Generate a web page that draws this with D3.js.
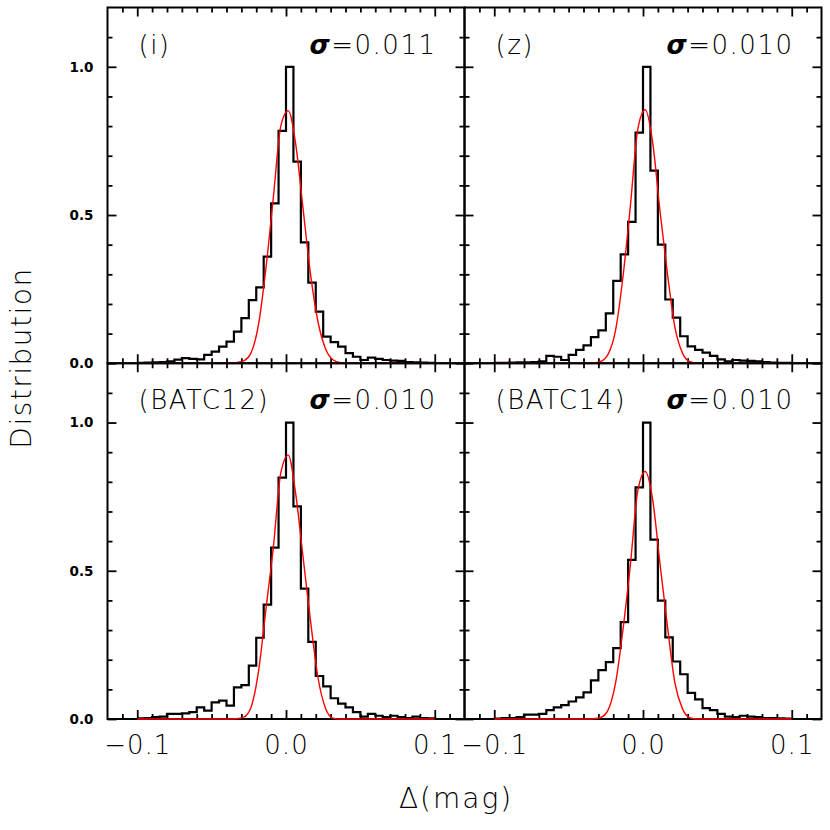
<!DOCTYPE html>
<html>
<head>
<meta charset="utf-8">
<script src="https://cdn.jsdelivr.net/npm/d3@7"></script>
<style>
  body { margin: 0; background: #fff; }
  svg { display: block; }
  text { font-family: "DejaVu Sans", sans-serif; fill: #000; }
  .thin { font-weight: 200; }
</style>
</head>
<body>
<div id="chart-area"></div>
<script>
// histogram bins: left edges start at -0.1, width 0.005 (40 bins)
const binStart = -0.1;
const binWidth = 0.005;

const histI = [0.001, 0.002, 0.003, 0.004, 0.006, 0.012, 0.017, 0.015, 0.013, 0.028,
  0.039, 0.056, 0.073, 0.107, 0.152, 0.213, 0.256, 0.36, 0.539, 0.784,
  1.0, 0.68, 0.408, 0.272, 0.174, 0.09, 0.071, 0.056, 0.034, 0.022,
  0.011, 0.019, 0.015, 0.011, 0.009, 0.008, 0.004, 0.003, 0.002, 0.001];
const histZ = [0.001, 0.001, 0.002, 0.003, 0.003, 0.004, 0.006, 0.025, 0.022, 0.011,
  0.028, 0.045, 0.06, 0.088, 0.111, 0.168, 0.278, 0.367, 0.477, 0.778,
  1.0, 0.65, 0.40, 0.215, 0.154, 0.091, 0.057, 0.045, 0.036, 0.025,
  0.013, 0.006, 0.011, 0.009, 0.008, 0.006, 0.004, 0.002, 0.001, 0.001];
const histB12 = [0.002, 0.003, 0.006, 0.008, 0.017, 0.017, 0.019, 0.023, 0.039, 0.028,
  0.056, 0.062, 0.045, 0.107, 0.114, 0.18, 0.274, 0.386, 0.578, 0.814,
  1.0, 0.717, 0.44, 0.26, 0.145, 0.11, 0.07, 0.052, 0.039, 0.023,
  0.008, 0.017, 0.011, 0.006, 0.011, 0.006, 0.003, 0.008, 0.003, 0.002];
const histB14 = [0.001, 0.003, 0.003, 0.006, 0.015, 0.015, 0.017, 0.03, 0.039, 0.047,
  0.059, 0.073, 0.09, 0.13, 0.165, 0.192, 0.239, 0.327, 0.537, 0.781,
  1.0, 0.605, 0.399, 0.275, 0.194, 0.151, 0.088, 0.066, 0.037, 0.03,
  0.017, 0.008, 0.006, 0.011, 0.008, 0.006, 0.003, 0.003, 0.002, 0.001];

// gaussian fit curves (red)
const fitX = [-0.1, -0.0385, -0.0335, -0.0285, -0.0235, -0.0185, -0.0135, -0.0085, -0.0035,
  0.0015, 0.0065, 0.0115, 0.0165, 0.0215, 0.0265, 0.0315, 0.0365, 0.0415, 0.1];
const fitI = [0, 0, 0.002, 0.008, 0.035, 0.13, 0.32, 0.56, 0.80, 0.852, 0.74, 0.52, 0.30, 0.14, 0.05, 0.012, 0.002, 0, 0];
const fitZ = [0, 0, 0.001, 0.006, 0.03, 0.11, 0.29, 0.53, 0.79, 0.855, 0.745, 0.51, 0.30, 0.12, 0.035, 0.005, 0, 0, 0];
const fitB12 = [0, 0, 0.001, 0.006, 0.04, 0.16, 0.37, 0.58, 0.83, 0.89, 0.76, 0.545, 0.33, 0.14, 0.037, 0.003, 0, 0, 0];
const fitB14 = [0, 0, 0.001, 0.005, 0.03, 0.12, 0.30, 0.52, 0.77, 0.835, 0.74, 0.52, 0.31, 0.12, 0.035, 0.004, 0, 0, 0];

const bandNames = ["(i)", "(z)", "(BATC12)", "(BATC14)"];
const sigmaValues = ["0.011", "0.010", "0.010", "0.010"];

const xMajor = [-0.1, 0.0, 0.1];
const xTickLabels = ["\u22120.1", "0.0", "0.1"];
const yMajor = [0.0, 0.5, 1.0];
const yTickLabels = ["0.0", "0.5", "1.0"];

const MARGIN = { LEFT: 107.5, TOP: 7.5 };
const W = 357;
const H = 355.75;

const svg = d3.select("#chart-area").append("svg")
  .attr("width", 830)
  .attr("height", 830);

const x = d3.scaleLinear().domain([-0.12, 0.12]).range([0, W]);
const y = d3.scaleLinear().domain([0, 1.2]).range([H, 0]);

const xMinor = d3.range(-11, 12).map(i => i / 100).filter(v => !xMajor.some(m => Math.abs(m - v) < 1e-9));
const yMinor = d3.range(1, 12).map(i => i / 10).filter(v => !yMajor.some(m => Math.abs(m - v) < 1e-9));

const panels = [
  { hist: histI, fit: fitI, col: 0, row: 0 },
  { hist: histZ, fit: fitZ, col: 1, row: 0 },
  { hist: histB12, fit: fitB12, col: 0, row: 1 },
  { hist: histB14, fit: fitB14, col: 1, row: 1 }
];

const histLine = d3.line()
  .x(d => x(d[0]))
  .y(d => y(d[1]))
  .curve(d3.curveStepAfter);

const fitLine = d3.line()
  .x(d => x(d[0]))
  .y(d => y(d[1]))
  .curve(d3.curveMonotoneX);

const styleAxis = sel => {
  sel.select(".domain").remove();
  sel.selectAll(".tick line").attr("stroke", "#000").attr("stroke-width", 1.8);
};

panels.forEach((p, i) => {
  const g = svg.append("g")
    .attr("transform", `translate(${MARGIN.LEFT + p.col * W}, ${MARGIN.TOP + p.row * H})`);

  // ticks on all four sides, pointing inward
  [[xMinor, 5], [xMajor, 9]].forEach(([vals, len]) => {
    g.append("g").attr("transform", `translate(0, ${H})`)
      .call(d3.axisBottom(x).tickValues(vals).tickSize(-len).tickFormat(""))
      .call(styleAxis);
    g.append("g")
      .call(d3.axisTop(x).tickValues(vals).tickSize(-len).tickFormat(""))
      .call(styleAxis);
  });
  [[yMinor, 5], [yMajor, 9]].forEach(([vals, len]) => {
    g.append("g")
      .call(d3.axisLeft(y).tickValues(vals).tickSize(-len).tickFormat(""))
      .call(styleAxis);
    g.append("g").attr("transform", `translate(${W}, 0)`)
      .call(d3.axisRight(y).tickValues(vals).tickSize(-len).tickFormat(""))
      .call(styleAxis);
  });

  // y labels on left column
  if (p.col === 0) {
    const yl = g.append("g")
      .call(d3.axisLeft(y).tickValues(yMajor).tickSize(0).tickPadding(14)
        .tickFormat((d, k) => yTickLabels[k]))
      .call(styleAxis);
    yl.selectAll("text")
      .attr("font-size", 13.5)
      .attr("font-weight", "bold")
      .attr("font-family", "'DejaVu Sans', sans-serif");
  }

  // x labels on bottom row
  if (p.row === 1) {
    const xl = g.append("g").attr("transform", `translate(0, ${H})`)
      .call(d3.axisBottom(x).tickValues(xMajor).tickSize(0).tickPadding(17)
        .tickFormat((d, k) => xTickLabels[k]))
      .call(styleAxis);
    xl.selectAll("text")
      .attr("class", "thin")
      .attr("font-size", 26)
      .attr("letter-spacing", 1)
      .attr("font-family", "'DejaVu Sans', sans-serif");
  }

  // frame
  g.append("rect")
    .attr("width", W)
    .attr("height", H)
    .attr("fill", "none")
    .attr("stroke", "#000")
    .attr("stroke-width", 2);

  // histogram
  const histPts = p.hist.map((v, k) => [binStart + k * binWidth, v]);
  histPts.push([binStart + p.hist.length * binWidth, p.hist[p.hist.length - 1]]);
  g.append("path")
    .attr("d", histLine(histPts))
    .attr("fill", "none")
    .attr("stroke", "#000")
    .attr("stroke-width", 2.2);

  // gaussian fit
  g.append("path")
    .attr("d", fitLine(fitX.map((v, k) => [v, p.fit[k]])))
    .attr("fill", "none")
    .attr("stroke", "#ff0000")
    .attr("stroke-width", 1.4);

  // band label
  g.append("text")
    .attr("class", "thin")
    .attr("x", 31)
    .attr("y", 46)
    .attr("font-size", 26)
    .attr("letter-spacing", 1.5)
    .text(bandNames[i]);

  // sigma label
  const sig = g.append("text")
    .attr("x", 329)
    .attr("y", 46)
    .attr("font-size", 26)
    .attr("text-anchor", "end")
    .attr("letter-spacing", 1.5);
  sig.append("tspan")
    .attr("font-weight", "bold")
    .attr("font-style", "italic")
    .text("\u03C3");
  sig.append("tspan")
    .attr("class", "thin")
    .text("=" + sigmaValues[i]);
});

// axis titles
svg.append("text")
  .attr("class", "thin")
  .attr("x", 456)
  .attr("y", 808)
  .attr("font-size", 28)
  .attr("text-anchor", "middle")
  .attr("letter-spacing", 2)
  .text("\u0394(mag)");

svg.append("text")
  .attr("class", "thin")
  .attr("transform", "translate(31, 358) rotate(-90)")
  .attr("font-size", 28)
  .attr("text-anchor", "middle")
  .attr("letter-spacing", 1.5)
  .text("Distribution");
</script>
</body>
</html>
